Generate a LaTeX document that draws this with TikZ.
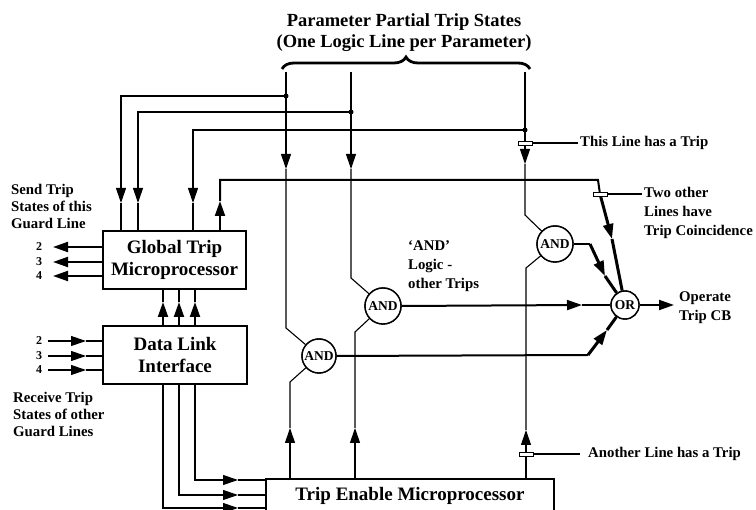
\documentclass[tikz,border=0pt]{standalone}
\usepackage{fontspec}
\setmainfont{Liberation Serif}
\usetikzlibrary{arrows.meta,decorations.pathreplacing,calc}
\begin{document}
\begin{tikzpicture}[x=1pt,y=-1pt,
  thinln/.style={line width=1.1pt},
  medln/.style={line width=2pt},
  heavyln/.style={line width=3pt},
  arr/.style={-{Triangle[length=15pt,width=10pt]}},
  boxnode/.style={draw,line width=1.8pt,align=center,font=\bfseries\fontsize{19}{22}\selectfont,inner sep=0pt},
  gate/.style={circle,draw,line width=1.4pt,inner sep=0pt,font=\bfseries\fontsize{13.5}{13.5}\selectfont},
  markbox/.style={draw,fill=white,line width=0.8pt,minimum width=14pt,minimum height=4pt,inner sep=0pt},
  lbl/.style={font=\bfseries\fontsize{14.8}{19}\selectfont,align=left,inner sep=0pt},
  lbll/.style={font=\bfseries\fontsize{14.8}{17}\selectfont,align=left,inner sep=0pt},
  num/.style={font=\bfseries\fontsize{12}{12}\selectfont,inner sep=0pt},
  dotn/.style={circle,fill,inner sep=0pt,minimum size=5pt}
]
\clip (0,0) rectangle (756,510);
\fill[white] (0,0) rectangle (756,510);

% title and brace
\node[font=\bfseries\fontsize{18.5}{21}\selectfont,align=center] (title) at (404,33) {Parameter Partial Trip States\\(One Logic Line per Parameter)};
\draw[line width=2.8pt,decorate,decoration={brace,amplitude=12pt}] (282,69) -- (530,69);

% boxes
\node[boxnode,minimum width=143pt,minimum height=58pt] (gtm) at (174.5,260) {Global Trip\\Microprocessor};
\node[boxnode,minimum width=144pt,minimum height=58pt] (dli) at (175,355) {Data Link\\Interface};
\node[draw,line width=1.8pt,minimum width=288pt,minimum height=60pt,anchor=north west,inner sep=0pt] (te) at (265,478) {};
\node[font=\bfseries\fontsize{19}{22}\selectfont] (tetext) at (410,496) {Trip Enable Microprocessor};

% gates
\node[gate,minimum size=34pt] (and1) at (319,356) {AND};
\node[gate,minimum size=36pt] (and2) at (383,306) {AND};
\node[gate,minimum size=36pt] (and3) at (555,244) {AND};
\node[gate,minimum size=28pt] (or) at (625,305) {OR};

% coordinates of parameter lines
\coordinate (b1) at (286,72);
\coordinate (b2) at (351,72);
\coordinate (b3) at (525,72);
\node[dotn] (d1) at (286,96) {};
\node[dotn] (d2) at (351,112) {};
\node[dotn] (d3) at (525,130) {};

% markers
\node[markbox] (m1) at (525,143) {};
\node[markbox] (m2) at (600,194) {};
\node[markbox] (m3) at (526,454) {};

% feedback lines to global trip microprocessor
\coordinate (fa1) at (121,203);
\coordinate (fa2) at (138,203);
\coordinate (fa3) at (193,203);
\draw[thinln,arr] (d1.center) -| (fa1);
\draw[thinln] (fa1) -- (fa1 |- gtm.north);
\draw[thinln,arr] (d2.center) -| (fa2);
\draw[thinln] (fa2) -- (fa2 |- gtm.north);
\draw[thinln,arr] (d3.center) -| (fa3);
\draw[thinln] (fa3) -- (fa3 |- gtm.north);

% thick line from GTM to OR
\coordinate (ua) at (220,231);
\coordinate (ut) at (220,201);
\coordinate (uc) at (220,180);
\coordinate (rc) at (598,180);
\coordinate (ot) at (612,239);
\draw[medln,arr] (ua) -- (ut);
\draw[medln] (ut) -- (uc) -- (rc) -- (m2.center);
\draw[heavyln,arr] (m2.center) -- (ot);
\draw[heavyln] (ot) -- (or);
\node[markbox] at (m2) {};

% parameter line 1
\coordinate (p1t) at (286,169);
\coordinate (p1k) at (286,328);
\draw[thinln,arr] (b1) -- (p1t);
\draw[thinln] (p1t) -- (p1k) -- (and1);
\coordinate (q1s) at (290,478);
\coordinate (q1t) at (290,428);
\coordinate (q1k) at (290,382);
\draw[thinln,arr] (q1s) -- (q1t);
\draw[thinln] (q1t) -- (q1k) -- (and1);

% parameter line 2
\coordinate (p2t) at (351,169);
\coordinate (p2k) at (351,278);
\draw[thinln,arr] (b2) -- (p2t);
\draw[thinln] (p2t) -- (p2k) -- (and2);
\coordinate (q2s) at (355,478);
\coordinate (q2t) at (355,428);
\coordinate (q2k) at (355,332);
\draw[thinln,arr] (q2s) -- (q2t);
\draw[thinln] (q2t) -- (q2k) -- (and2);

% parameter line 3
\coordinate (p3t) at (525,164);
\coordinate (p3k) at (525,215);
\draw[thinln] (b3) -- (m1.center);
\draw[thinln,arr] (m1.center) -- (p3t);
\draw[thinln] (p3t) -- (p3k) -- (and3);
\node[markbox] at (m1) {};
\coordinate (q3s) at (526,478);
\coordinate (q3t) at (526,430);
\coordinate (q3k) at (526,268);
\draw[thinln] (q3s) -- (m3.center);
\draw[thinln,arr] (m3.center) -- (q3t);
\draw[thinln] (q3t) -- (q3k) -- (and3);
\node[markbox] at (m3) {};

% gate outputs
\coordinate (a2t) at (582,305);
\draw[medln,arr] (and2.east) -- (a2t);
\draw[medln] (a2t) -- (or.west);
\coordinate (a1k) at (588,355);
\coordinate (a1t) at (607,330);
\draw[medln] (and1.east) -- (a1k);
\draw[heavyln,arr] (a1k) -- (a1t);
\draw[heavyln] (a1t) -- (or);
\coordinate (a3k) at (590,244);
\coordinate (a3t) at (605,276);
\draw[medln] (and3.east) -- (a3k);
\draw[heavyln,arr] (a3k) -- (a3t);
\draw[heavyln] (a3t) -- (or);
\coordinate (oo) at (674,305);
\draw[medln,arr] (or.east) -- (oo);

% redraw gates on top
\node[gate,minimum size=34pt,fill=white] at (and1) {AND};
\node[gate,minimum size=36pt,fill=white] at (and2) {AND};
\node[gate,minimum size=36pt,fill=white] at (and3) {AND};
\node[gate,minimum size=28pt,fill=white] at (or) {OR};

% GTM outputs
\foreach \y/\n in {247/2,262/3,276/4}{
  \coordinate (go\n) at (53,\y);
  \draw[medln,arr] (gtm.west |- go\n) -- (go\n);
  \node[num] (gn\n) at (39,\y) {\n};
}
% DLI inputs
\foreach \y/\n in {341/2,356/3,370/4}{
  \coordinate (ds\n) at (48,\y);
  \coordinate (dt\n) at (86,\y);
  \draw[thinln,arr] (ds\n) -- (dt\n);
  \draw[thinln] (dt\n) -- (dt\n -| dli.west);
  \node[num] (dn\n) at (39,\y) {\n};
}
% DLI to GTM
\foreach \x in {163,179,195}{
  \coordinate (up\x) at (\x,302);
  \draw[medln,arr] (\x,326) -- (up\x);
  \draw[medln] (up\x) -- (up\x |- gtm.south);
}
% DLI to TE
\foreach \x/\y in {195/480,179/495,163/508}{
  \coordinate (tk\x) at (\x,\y);
  \coordinate (tt\x) at (238,\y);
  \draw[thinln,arr] (tk\x |- dli.south) -- (tk\x) -- (tt\x);
  \draw[thinln] (tt\x) -- (tt\x -| te.west);
}

% marker labels
\coordinate (l1) at (578,143);
\coordinate (l2) at (642,194);
\coordinate (l3) at (580,454);
\draw[thinln] (m1.east) -- (l1);
\draw[thinln] (m2.east) -- (l2);
\draw[thinln] (m3.east) -- (l3);
\node[lbl,anchor=west] (t1) at (580,143) {This Line has a Trip};
\node[lbl,anchor=west] (t2) at (644,212.5) {Two other\\Lines have\\Trip Coincidence};
\node[lbl,anchor=west] (t3) at (588,454) {Another Line has a Trip};
\node[lbl,anchor=west] (t4) at (408,266.5) {‘AND’\\Logic -\\other Trips};
\node[lbl,anchor=west] (t5) at (679,307.5) {Operate\\Trip CB};
\node[lbll,anchor=west] (t6) at (11,206) {Send Trip\\States of this\\Guard Line};
\node[lbll,anchor=west] (t7) at (13,414) {Receive Trip\\States of other\\Guard Lines};
\end{tikzpicture}
\end{document}
